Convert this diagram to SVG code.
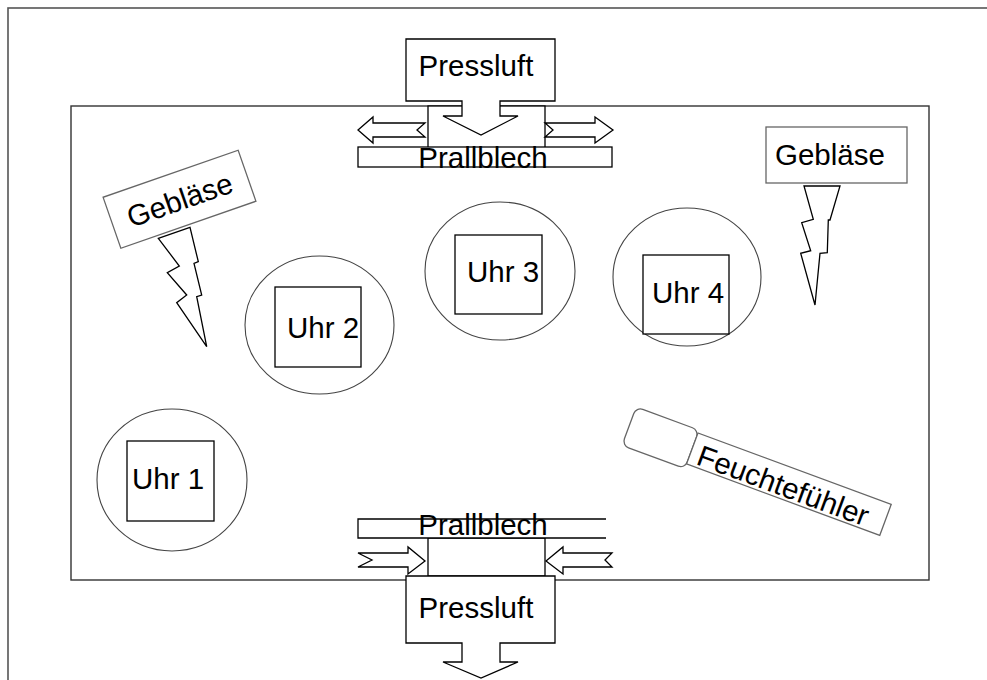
<svg xmlns="http://www.w3.org/2000/svg" width="987" height="680" viewBox="0 0 987 680">
<style>
text{font-family:"Liberation Sans",Arial,sans-serif;font-size:29.5px;fill:#000}
.ln{fill:#fff;stroke:#000;stroke-width:1.3}
.gr{fill:#fff;stroke:#666;stroke-width:1.3}
.circ{fill:none;stroke:#444;stroke-width:1.1}
.mid{text-anchor:middle}
</style>
<rect width="987" height="680" fill="#fff"/>
<g id="frame">
<rect x="8" y="8" width="1000" height="700" fill="none" stroke="#555" stroke-width="1.6"/>
<rect x="71" y="106" width="858" height="474" fill="none" stroke="#333" stroke-width="1.4"/>
</g>
<g id="top-assembly">
<rect class="ln" x="428" y="106" width="117" height="42"/>
<path class="ln" d="M406,39 H555 V101 H500 V116 H518 L481,135 L443,116 H462 V101 H406 Z"/>
<text class="mid" x="476" y="76">Pressluft</text>
<polygon class="ln" points="358,130 373,117 373,123 425,123 417,130 425,137 373,137 373,143"/>
<polygon class="ln" points="545,123 595,123 595,117 613,130 595,143 595,137 545,137 553,130"/>
<rect class="ln" x="358" y="147" width="254" height="20"/>
<text class="mid" x="483" y="168">Prallblech</text>
</g>
<g id="bottom-assembly">
<rect class="ln" x="428" y="538" width="117" height="38"/>
<path class="ln" d="M606,519 H358 V538 H606"/>
<text class="mid" x="483" y="535">Prallblech</text>
<polygon class="ln" points="358,553 408,553 408,547 425,561 408,574 408,567 358,567 372,560"/>
<polygon class="ln" points="546,561 563,547 563,553 612,553 605,560 612,567 563,567 563,574"/>
<path class="ln" d="M406,576 H555 V643 H500 V662 H518 L481,678 L443,662 H462 V643 H406 Z"/>
<text class="mid" x="476" y="618">Pressluft</text>
</g>
<g id="uhr1">
<ellipse class="circ" cx="172" cy="480" rx="75" ry="71"/>
<rect class="ln" x="127" y="441" width="87" height="80"/>
<text x="132" y="489">Uhr 1</text>
</g>
<g id="uhr2">
<ellipse class="circ" cx="319.5" cy="325" rx="74.5" ry="69"/>
<rect class="ln" x="275" y="287" width="86" height="80"/>
<text x="287" y="338">Uhr 2</text>
</g>
<g id="uhr3">
<ellipse class="circ" cx="500" cy="271" rx="75" ry="69"/>
<rect class="ln" x="455" y="235" width="87" height="79"/>
<text x="467" y="282">Uhr 3</text>
</g>
<g id="uhr4">
<ellipse class="circ" cx="687" cy="277" rx="74" ry="69"/>
<rect class="ln" x="643" y="255" width="86" height="79"/>
<text x="652" y="303">Uhr 4</text>
</g>
<g id="geblaese-left">
<g transform="translate(179.5,199.25) rotate(-19.2)">
<rect class="gr" x="-71.5" y="-27" width="143" height="54"/>
<text class="mid" x="0" y="11">Gebläse</text>
</g>
<polygon class="ln" points="158.3,238.3 190,227.3 198.3,261.7 194,263.3 201.7,295 196.7,296.7 206.7,346.7 176.7,302.7 186.7,295 167.3,272.7 179.3,266"/>
</g>
<g id="geblaese-right">
<rect class="gr" x="766" y="127" width="141" height="56"/>
<text x="775" y="165">Gebläse</text>
<polygon class="ln" points="804,186 840,186 830,220 828.3,220 827.3,252.7 820,253.3 815,305 800.7,253.3 810.7,250.7 801.7,222.7 813.3,219.3"/>
</g>
<g id="feuchtefuehler">
<g transform="translate(698,433) rotate(20.3)">
<rect class="gr" x="-67" y="-3" width="67" height="41" rx="7"/>
<rect class="gr" x="0" y="0" width="206" height="33"/>
<text x="8" y="30">Feuchtefühler</text>
</g>
</g>
</svg>
